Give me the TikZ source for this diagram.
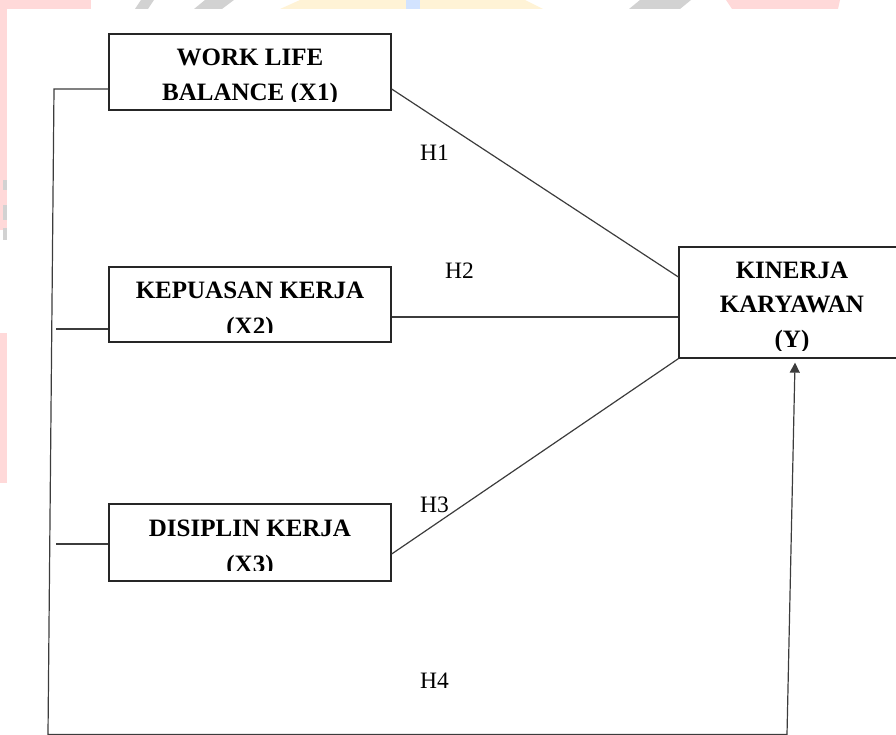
\documentclass[tikz,border=0pt]{standalone}
\usepackage{fontspec}
\setmainfont{Liberation Serif}
\usetikzlibrary{arrows.meta}
\definecolor{wmpink}{HTML}{FFD9D9}
\definecolor{wmgray}{HTML}{D2D2D2}
\definecolor{wmyellow}{HTML}{FFF3D6}
\definecolor{wmblue}{HTML}{D2E3FF}
\definecolor{ink}{HTML}{262626}
\begin{document}
\begin{tikzpicture}[x=1pt,y=-1pt,
  varbox/.style={draw=ink, line width=1.3pt, rectangle, inner sep=0pt},
  boxtext/.style={anchor=base, inner sep=0pt, font=\bfseries\fontsize{25}{30}\selectfont},
  hlabel/.style={anchor=base west, inner sep=0pt, font=\fontsize{23.5}{28}\selectfont},
  link/.style={draw=ink!90, line width=1.2pt}]
\useasboundingbox (0,0) rectangle (896,735);
% faint watermark remnants
\fill[wmpink] (0,0) rectangle (91,9);
\fill[wmgray] (135,9) -- (141,0) -- (154,0) -- (148,9) -- cycle;
\fill[wmgray] (194,9) -- (205,0) -- (234,0) -- (222,9) -- cycle;
\fill[wmyellow] (280,9) -- (300,0) -- (525,0) -- (543,9) -- cycle;
\fill[wmblue] (406,0) rectangle (420,9);
\fill[wmgray] (629,9) -- (640,0) -- (691,0) -- (680,9) -- cycle;
\fill[wmpink] (726,0) -- (840,0) -- (838,9) -- (732,9) -- cycle;
\fill[wmpink] (0,0) rectangle (7,230);
\fill[wmgray] (3,180) rectangle (7,190);
\fill[wmgray] (3,205) rectangle (7,220);
\fill[wmgray] (3,228) rectangle (7,240);
\fill[wmpink] (0,333) rectangle (7,483);
% boxes
\node[varbox, minimum width=282pt, minimum height=76pt] (x1) at (250,72) {};
\node[varbox, minimum width=282pt, minimum height=75pt] (x2) at (250,304.5) {};
\node[varbox, minimum width=282pt, minimum height=77pt] (x3) at (250,542.5) {};
\node[varbox, minimum width=226pt, minimum height=111pt] (y) at (792,302.5) {};
% box texts (clipped like the original text boxes)
\begin{scope}
\clip (109,34) rectangle (391,102);
\node[boxtext] (x1a) at (250,66) {WORK LIFE};
\node[boxtext] (x1b) at (250,101) {BALANCE (X1)};
\end{scope}
\begin{scope}
\clip (109,267) rectangle (391,332);
\node[boxtext] (x2a) at (250,298) {KEPUASAN KERJA};
\node[boxtext] (x2b) at (250,334) {(X2)};
\end{scope}
\begin{scope}
\clip (109,504) rectangle (391,570);
\node[boxtext] (x3a) at (250,536) {DISIPLIN KERJA};
\node[boxtext] (x3b) at (250,572) {(X3)};
\end{scope}
\begin{scope}
\clip (679,247) rectangle (896,350);
\node[boxtext] (ya) at (792,278) {KINERJA};
\node[boxtext] (yb) at (792,312) {KARYAWAN};
\node[boxtext] (yc) at (792,347) {(Y)};
\end{scope}
% hypothesis labels
\node[hlabel] (h1) at (420,161) {H1};
\node[hlabel] (h2) at (445,278) {H2};
\node[hlabel] (h3) at (420,512) {H3};
\node[hlabel] (h4) at (420,688) {H4};
% connectors
\coordinate (lt) at (54,89);
\coordinate (lb) at (48,734.5);
\coordinate (rb) at (787,734.5);
\coordinate (s2) at (56,329);
\coordinate (s3) at (56,544);
\draw[link] ([yshift=-17pt]x1.east) -- ([yshift=25.5pt]y.west);
\draw[link] ([yshift=-12.5pt]x2.east) -- ([yshift=-14.5pt]y.west);
\draw[link] ([yshift=-11.5pt]x3.east) -- (y.south west);
\draw[link] (s2) -- ([yshift=-24.5pt]x2.west);
\draw[link] (s3) -- ([yshift=-1.5pt]x3.west);
\draw[link, -{Triangle[length=10pt,width=10pt]}] ([yshift=-17pt]x1.west) -- (lt) -- (lb) -- (rb) -- ([xshift=3pt,yshift=-4pt]y.south);
\end{tikzpicture}
\end{document}
